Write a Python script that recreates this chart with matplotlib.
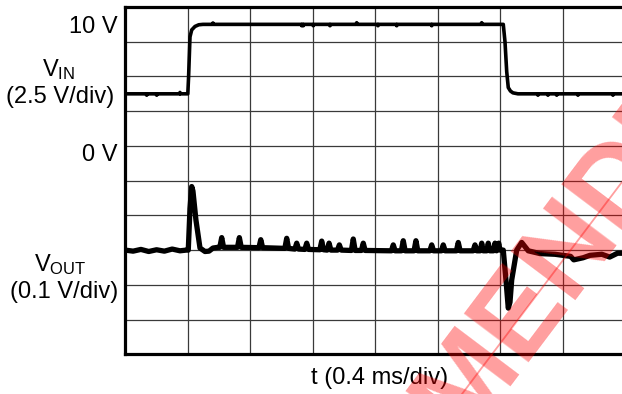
import matplotlib
matplotlib.use("Agg")
import matplotlib.pyplot as plt
import numpy as np

plt.rcParams['font.family'] = ['Liberation Sans', 'DejaVu Sans']
plt.rcParams['mathtext.default'] = 'regular'

# ---- data (time in ms) ----
vin_t = [0.0, 0.135, 0.137, 0.139, 0.199, 0.201, 0.203, 0.348, 0.350, 0.352,
         0.400, 0.405, 0.414, 0.425, 0.446, 0.470, 0.497, 0.559, 0.561, 0.563,
         1.127, 1.129, 1.131, 1.137, 1.139, 1.141, 1.201, 1.203, 1.205, 1.308,
         1.310, 1.312, 1.479, 1.481, 1.483, 1.615, 1.617, 1.619, 1.735, 1.737,
         1.739, 1.959, 1.961, 1.963, 2.279, 2.281, 2.283, 2.419, 2.430, 2.441,
         2.451, 2.465, 2.481, 2.513, 2.639, 2.641, 2.643, 2.703, 2.705, 2.707,
         2.759, 2.761, 2.763, 2.895, 2.897, 2.899, 3.119, 3.121, 3.123, 3.2]
vin_v = [5.0, 5.0, 4.9, 5.0, 5.0, 4.9, 5.0, 5.0, 5.1, 5.0,
         5.0, 6.2, 9.1, 9.6, 9.85, 9.97, 10.0, 10.0, 10.1, 10.0,
         10.0, 9.9, 10.0, 10.0, 9.9, 10.0, 10.0, 9.9, 10.0, 10.0,
         9.9, 10.0, 10.0, 10.12, 10.0, 10.0, 9.9, 10.0, 10.0, 9.9,
         10.0, 10.0, 9.9, 10.0, 10.0, 10.12, 10.0, 10.0, 8.75, 6.6,
         5.45, 5.2, 5.07, 5.0, 5.0, 4.9, 5.0, 5.0, 4.9, 5.0,
         5.0, 4.9, 5.0, 5.0, 4.9, 5.0, 5.0, 4.9, 5.0, 5.0]

vout_t = [0.0, 0.05, 0.10, 0.15, 0.20, 0.25, 0.30, 0.35, 0.39, 0.403,
          0.414, 0.425, 0.433, 0.452, 0.478, 0.510, 0.536, 0.561, 0.593, 0.605,
          0.617, 0.629, 0.718, 0.730, 0.742, 0.855, 0.867, 0.879, 1.021, 1.033,
          1.045, 1.085, 1.097, 1.109, 1.149, 1.161, 1.173, 1.245, 1.257, 1.269,
          1.292, 1.304, 1.316, 1.358, 1.370, 1.382, 1.447, 1.459, 1.471, 1.511,
          1.523, 1.535, 1.703, 1.715, 1.727, 1.767, 1.779, 1.791, 1.848, 1.860,
          1.872, 1.949, 1.961, 1.973, 2.023, 2.035, 2.047, 2.119, 2.131, 2.143,
          2.226, 2.238, 2.250, 2.271, 2.281, 2.291, 2.313, 2.323, 2.333, 2.356,
          2.366, 2.376, 2.390, 2.398, 2.419, 2.437, 2.451, 2.462, 2.473, 2.505,
          2.537, 2.558, 2.579, 2.654, 2.75, 2.85, 2.87, 2.93, 2.974, 3.05,
          3.10, 3.15, 3.2]
vout_mv = [0, -3, 2, -4, 1, -3, 3, -2, 0, 0,
           120, 183, 170, 87, 6, -4, -3, 6, 8, 8,
           36, 8, 8, 36, 8, 7, 30, 7, 5, 34,
           5, 3, 20, 3, 2, 20, 2, 1, 26, 1,
           0, 20, 0, 0, 15, 0, -1, 32, -1, -1,
           20, -1, -2, 15, -2, -2, 27, -2, -2, 27,
           -2, -2, 15, -2, -2, 15, -2, -2, 22, -2,
           -2, 15, -2, -2, 20, -2, -2, 20, -2, -2,
           20, -2, 20, 0, 0, -90, -167, -150, -86, 0,
           22, 10, -2, -10, -12, -18, -28, -22, -15, -12,
           -20, -9, -9]

vin_zero_div, vin_per_div = 5.5, 2.5      # V/div
vout_zero_div, vout_per_div = 3.0, 100.0  # mV/div

W, H = 622, 394
fig = plt.figure(figsize=(W / 100, H / 100), dpi=100)
left, right, top, bottom = 125.3, 625.3, 7.0, 354.3
ax = fig.add_axes([left / W, 1 - bottom / H, (right - left) / W, (bottom - top) / H])
ax.set_xlim(0, 3.2)
ax.set_ylim(0, 10)
ax.set_xticks(np.arange(0, 3.21, 0.4))
ax.set_yticks(np.arange(0, 10.1, 1))
ax.tick_params(length=0, labelbottom=False, labelleft=False)
ax.grid(True, color='#3a3a3a', lw=0.9)
for s in ['left', 'top', 'bottom']:
    ax.spines[s].set_linewidth(2.3)
ax.spines['right'].set_visible(False)

vin_div = [vin_zero_div + v / vin_per_div for v in vin_v]
vout_div = [vout_zero_div + v / vout_per_div for v in vout_mv]
ax.plot(vin_t, vin_div, color='black', lw=2.6, solid_joinstyle='round', solid_capstyle='round', zorder=3)
ax.plot(vout_t, vout_div, color='black', lw=3.8, solid_joinstyle='round', solid_capstyle='round', zorder=3)

def px(x, y):
    return x / W, 1 - y / H

fs = 17
fig.text(*px(118, 27), '10 V', ha='right', va='center', fontsize=fs)
fig.text(*px(59, 70), 'V$_{IN}$', ha='center', va='center', fontsize=fs)
fig.text(*px(60, 97), '(2.5 V/div)', ha='center', va='center', fontsize=fs)
fig.text(*px(118, 155), '0 V', ha='right', va='center', fontsize=fs)
fig.text(*px(60, 265), 'V$_{OUT}$', ha='center', va='center', fontsize=fs)
fig.text(*px(64, 292), '(0.1 V/div)', ha='center', va='center', fontsize=fs)
fig.text(*px(380, 378), 't (0.4 ms/div)', ha='center', va='center', fontsize=fs)

# watermark
fig.text(*px(460, 392), 'RECOMMENDED', rotation=53, rotation_mode='anchor',
         ha='center', va='center', fontsize=84, fontweight='bold',
         color='red', alpha=0.38, zorder=10)
fig.add_artist(plt.Line2D([462 / W, 622 / W], [1 - 394 / H, 1 - 182 / H],
                          color='red', alpha=0.38, lw=1.3, zorder=10))

fig.savefig('out.png', dpi=100)
